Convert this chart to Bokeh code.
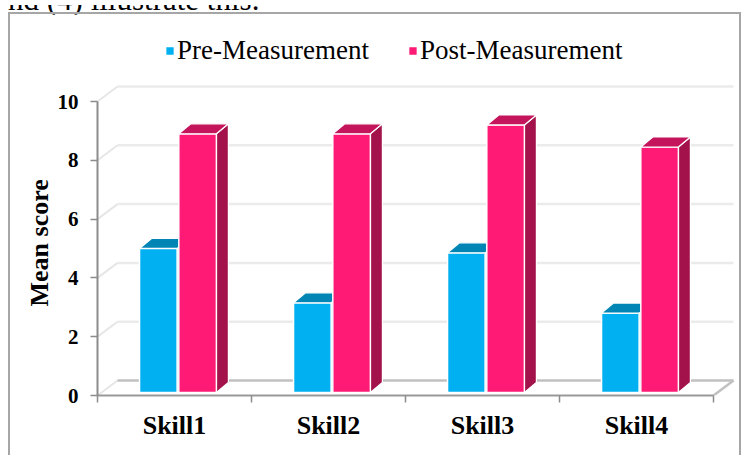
from bokeh.plotting import figure
from bokeh.models import Range1d, FixedTicker, Legend, LegendItem, Div, Title
from bokeh.layouts import column
from bokeh.embed import file_html
from bokeh.resources import INLINE

# ---- data ----
skills = ["Skill1", "Skill2", "Skill3", "Skill4"]
pre = [4.9, 3.05, 4.75, 2.7]
post = [8.8, 8.8, 9.1, 8.35]
y_ticks = [0, 2, 4, 6, 8, 10]
series_names = ["Pre-Measurement", "Post-Measurement"]
y_title = "Mean score"
page_text = "nd (4) illustrate this."

# ---- style constants ----
FONT = "Liberation Serif"
PX_X = 154.0   # pixels per category
PX_Y = 29.4    # pixels per unit
WALL_DX, WALL_DY = 20 / PX_X, 15 / PX_Y     # depth of the 3D box
BAR_DX, BAR_DY = 12 / PX_X, 10 / PX_Y       # depth of a bar
BASE = 3 / PX_Y
BAR_W = 0.244
OFFS = [-0.105, 0.150]

FRONT = ["#00B0F0", "#FF1A75"]
TOP = ["#0085B5", "#C4145B"]
SIDE = ["#00709A", "#A3124B"]

p = figure(width=733, height=443, output_backend="svg", toolbar_location=None,
           x_range=Range1d(0, 640 / PX_X), y_range=Range1d(0, 373 / PX_Y),
           min_border_left=87, min_border_right=6, min_border_top=8,
           min_border_bottom=62, background_fill_color="white",
           border_fill_color="white", outline_line_color=None)
p.styles = {"margin-left": "8px", "margin-top": "12px",
            "border-top": "2px solid #A6A6A6",
            "border-left": "2px solid #A6A6A6", "border-right": "2px solid #A6A6A6"}
p.xgrid.visible = False
p.ygrid.visible = False

n = len(skills)
# back wall gridlines + left wall diagonals
back_levels = [t for t in y_ticks if t > 0]
p.segment(x0=[WALL_DX] * len(back_levels), y0=[t + WALL_DY for t in back_levels],
          x1=[n + WALL_DX] * len(back_levels), y1=[t + WALL_DY for t in back_levels],
          line_color="#EBEBEB", line_width=2.5)
p.segment(x0=[0] * len(y_ticks), y0=y_ticks,
          x1=[WALL_DX] * len(y_ticks), y1=[t + WALL_DY for t in y_ticks],
          line_color="#E6E6E6", line_width=2)
# floor
p.segment(x0=[WALL_DX, n], y0=[WALL_DY, 0], x1=[n + WALL_DX, n + WALL_DX],
          y1=[WALL_DY, WALL_DY], line_color="#C0C0C0", line_width=2.5)

# bars
legend_items = []
for s, vals in enumerate([pre, post]):
    xc = [i + 0.5 + OFFS[s] for i in range(n)]
    left = [x - BAR_W / 2 for x in xc]
    right = [x + BAR_W / 2 for x in xc]
    top = [BASE + v for v in vals]
    side_xs = [[r, r, r + BAR_DX, r + BAR_DX] for r in right]
    side_ys = [[BASE, t, t + BAR_DY, BASE + BAR_DY] for t in top]
    p.patches(side_xs, side_ys, fill_color=SIDE[s], line_color="white", line_width=1.2)
    front = p.quad(left=left, right=right, bottom=[BASE] * n, top=top,
                   fill_color=FRONT[s], line_color="white", line_width=1.5)
    top_xs = [[l, r, r + BAR_DX, l + BAR_DX] for l, r in zip(left, right)]
    top_ys = [[t, t, t + BAR_DY, t + BAR_DY] for t in top]
    p.patches(top_xs, top_ys, fill_color=TOP[s], line_color="white", line_width=1.2)
    legend_items.append(LegendItem(label=series_names[s], renderers=[front]))

legend = Legend(items=legend_items, orientation="horizontal", location=(67, 329),
                glyph_width=11, glyph_height=11, label_standoff=2, spacing=38,
                padding=0, margin=0, border_line_color=None, background_fill_alpha=0,
                label_text_font=FONT, label_text_font_size="27px",
                label_text_color="black")
p.add_layout(legend)

# axes
ax = p.yaxis[0]
ax.ticker = FixedTicker(ticks=y_ticks)
ax.bounds = (0, 10)
ax.major_label_text_font = FONT
ax.major_label_text_font_size = "21px"
ax.major_label_text_font_style = "bold"
ax.major_label_text_color = "black"
ax.major_label_standoff = 12
ax.major_tick_out = 7
ax.major_tick_in = 0
ax.minor_tick_line_color = None
ax.axis_line_color = "#8C8C8C"
ax.axis_line_width = 2
ax.major_tick_line_color = "#8C8C8C"
ax.major_tick_line_width = 1.5

ytitle = Title(text=y_title, align="left", offset=89, vertical_align="middle",
               standoff=0, text_font=FONT, text_font_size="26px",
               text_font_style="bold", text_color="black")
p.add_layout(ytitle, "left")

bx = p.xaxis[0]
label_pos = [i + 0.5 for i in range(n)]
bx.ticker = FixedTicker(ticks=label_pos, minor_ticks=list(range(n + 1)))
bx.major_label_overrides = {pos: name for pos, name in zip(label_pos, skills)}
bx.bounds = (0, n)
bx.major_tick_out = 0
bx.major_tick_in = 0
bx.minor_tick_out = 7
bx.minor_tick_in = 0
bx.minor_tick_line_color = "#8C8C8C"
bx.minor_tick_line_width = 1.5
bx.axis_line_color = "#999999"
bx.axis_line_width = 2
bx.major_label_text_font = FONT
bx.major_label_text_font_size = "26px"
bx.major_label_text_font_style = "bold"
bx.major_label_text_color = "black"
bx.major_label_standoff = 8

head = Div(text='<div style="position:relative;top:-21px;left:3px;white-space:nowrap;'
                "font-family:'Liberation Serif';font-size:31px;line-height:31px;"
                'color:black">' + page_text + '</div>',
           width=751, height=12,
           styles={"position": "absolute", "top": "0px", "left": "0px",
                   "overflow": "hidden"})

layout = column(head, p, spacing=0)
open("out.html", "w").write(file_html(layout, INLINE))
